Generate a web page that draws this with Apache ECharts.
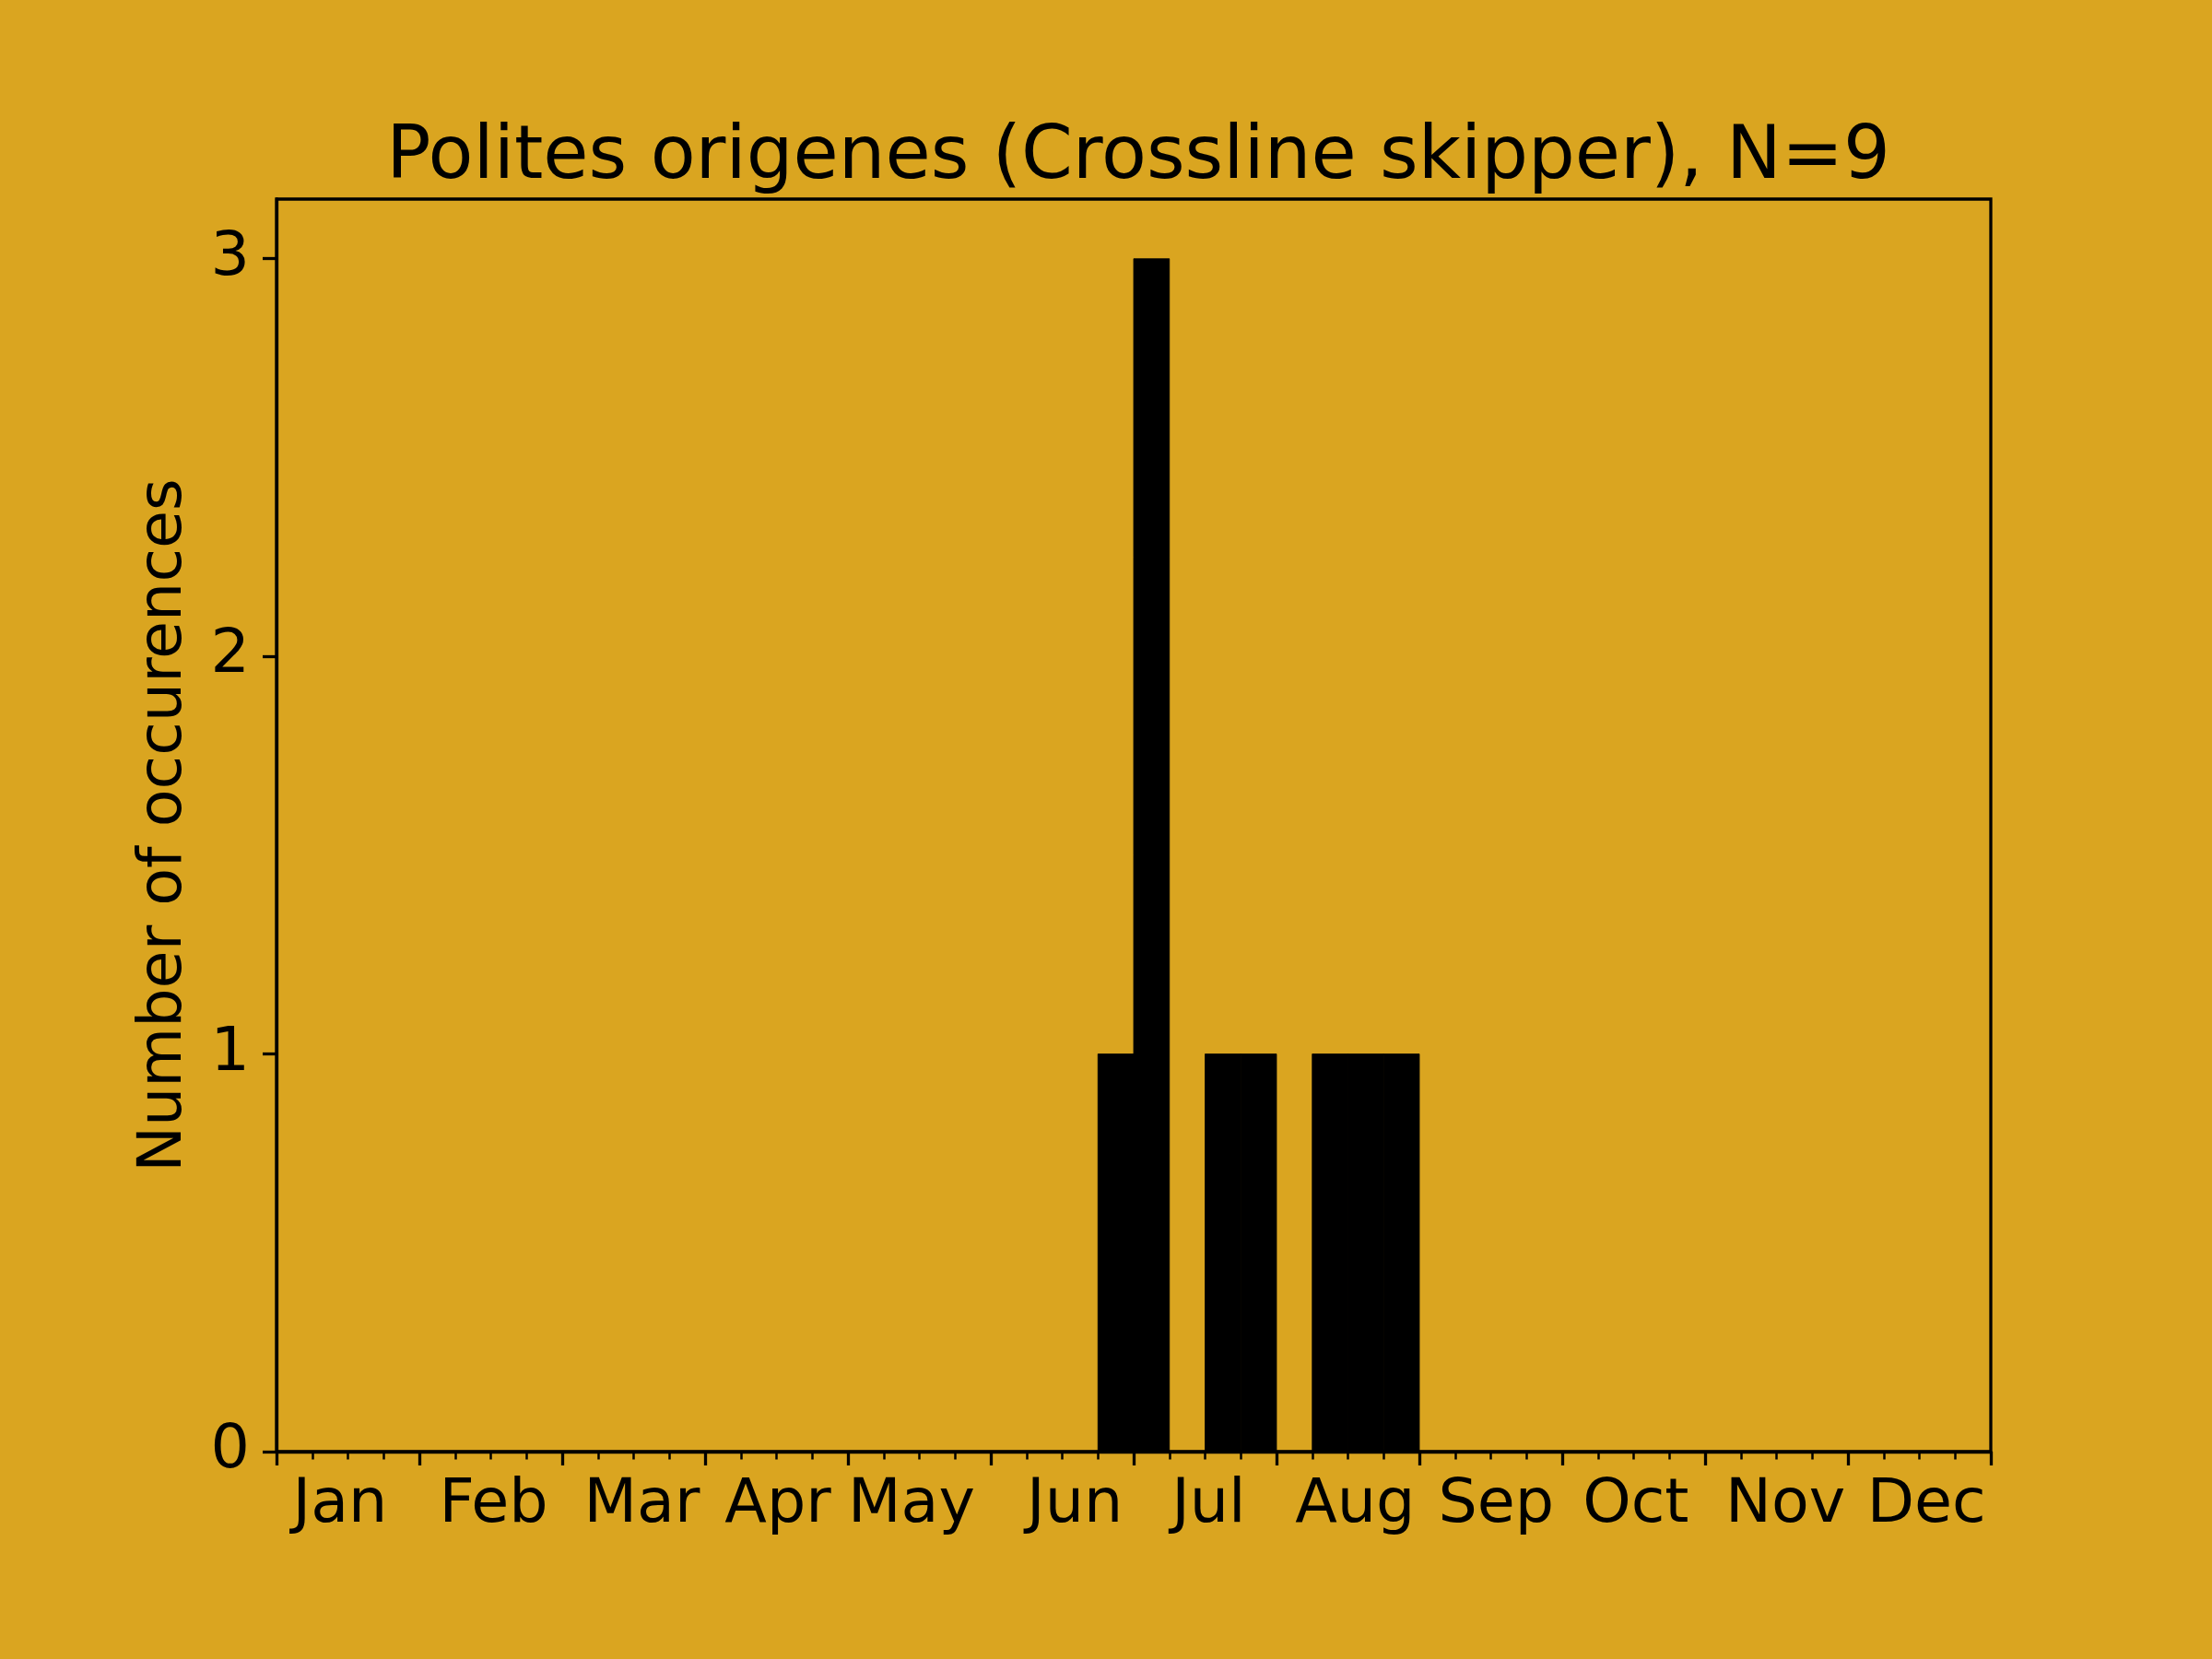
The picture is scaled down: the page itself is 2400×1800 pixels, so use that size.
<!DOCTYPE html>
<html>
<head>
<meta charset="utf-8">
<script src="https://cdn.jsdelivr.net/npm/echarts@6/dist/echarts.min.js"></script>
<style>
html,body{margin:0;padding:0;background:#DAA520;}
#chart{width:2400px;height:1800px;}
</style>
</head>
<body>
<div id="chart"></div>
<script>
// Weekly-ish bins (48 per year, 4 per month)
const binCounts = [0,0,0,0, 0,0,0,0, 0,0,0,0, 0,0,0,0, 0,0,0,0, 0,0,0,1, 3,0,1,1, 0,1,1,1, 0,0,0,0, 0,0,0,0, 0,0,0,0, 0,0,0,0];
const monthLabels = ['Jan','Feb','Mar','Apr','May','Jun','Jul','Aug','Sep','Oct','Nov','Dec'];
const monthLabelPos = [1.78, 6.08, 10.23, 14.04, 17.78, 22.35, 26.1, 30.2, 34.15, 38.06, 42.25, 46.2];
const yTicks = [0, 1, 2, 3];
const titleText = 'Polites origenes (Crossline skipper), N=9';
const yName = 'Number of occurences';

const barData = [];
binCounts.forEach((c, i) => { if (c > 0) barData.push([i, i + 1, c]); });

const FONT = 'DejaVu Sans';
const chart = echarts.init(document.getElementById('chart'), null, {renderer: 'canvas'});
chart.setOption({
  backgroundColor: '#DAA520',
  animation: false,
  title: {
    text: titleText,
    left: 1230, textAlign: 'center',
    top: 127,
    textStyle: {fontFamily: FONT, fontSize: 80, fontWeight: 'normal', color: '#000'}
  },
  grid: {
    left: 300, right: 240, top: 216, bottom: 225,
    show: true, borderColor: '#000', borderWidth: 3.3, backgroundColor: 'transparent'
  },
  xAxis: {
    type: 'value', min: 0, max: 48, interval: 4,
    axisLine: {show: true, onZero: false, lineStyle: {color: '#000', width: 3.3}},
    axisTick: {show: true, length: 15, lineStyle: {color: '#000', width: 3.3}},
    minorTick: {show: true, splitNumber: 4, length: 8.5, lineStyle: {color: '#000', width: 2.5}},
    splitLine: {show: false},
    minorSplitLine: {show: false},
    axisLabel: {
      customValues: monthLabelPos,
      margin: 25,
      fontFamily: FONT, fontSize: 66.7, color: '#000',
      formatter: function (v) {
        const idx = monthLabelPos.indexOf(v);
        return idx >= 0 ? monthLabels[idx] : '';
      }
    }
  },
  yAxis: {
    type: 'value', min: 0, max: 3.15,
    name: yName, nameLocation: 'middle', nameRotate: 90, nameGap: 88,
    nameTextStyle: {fontFamily: FONT, fontSize: 66.7, color: '#000'},
    axisLine: {show: true, lineStyle: {color: '#000', width: 3.3}},
    axisTick: {show: true, customValues: yTicks, length: 15, lineStyle: {color: '#000', width: 3.3}},
    splitLine: {show: false},
    axisLabel: {
      customValues: yTicks,
      margin: 29,
      fontFamily: FONT, fontSize: 66.7, color: '#000'
    }
  },
  series: [{
    type: 'custom',
    data: barData,
    encode: {x: [0, 1], y: 2},
    renderItem: function (params, api) {
      const p0 = api.coord([api.value(0), api.value(2)]);
      const p1 = api.coord([api.value(1), 0]);
      return {
        type: 'rect',
        shape: {x: p0[0], y: p0[1], width: p1[0] - p0[0], height: p1[1] - p0[1]},
        style: {fill: '#000', stroke: '#000', lineWidth: 0.8}
      };
    }
  }]
});
</script>
</body>
</html>
